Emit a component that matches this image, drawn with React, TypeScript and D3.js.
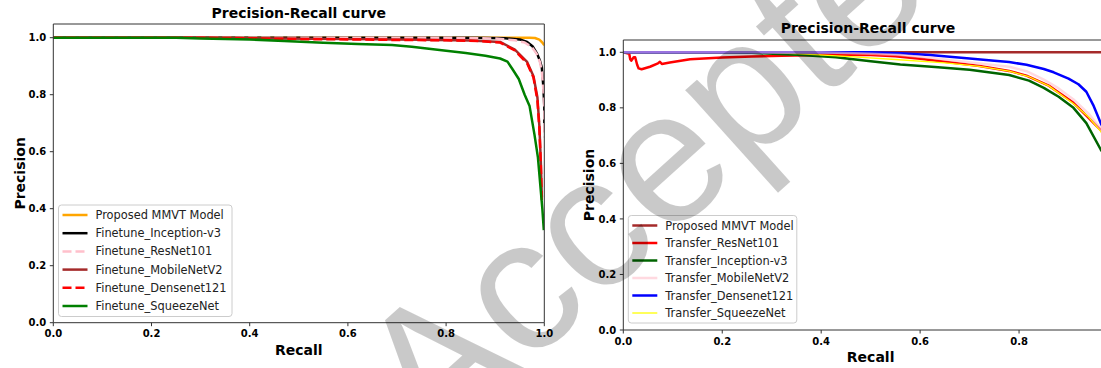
import React from "react";
import * as d3 from "d3";

type Pt = [number, number];

// ---------- data: left panel (Finetune) ----------
const leftNames = [
  "Proposed MMVT Model",
  "Finetune_Inception-v3",
  "Finetune_ResNet101",
  "Finetune_MobileNetV2",
  "Finetune_Densenet121",
  "Finetune_SqueezeNet",
];
const leftProposed: Pt[] = [[0, 1], [0.97, 1], [0.981, 0.999], [0.99, 0.993], [0.995, 0.985], [1, 0.974]];
const leftInception: Pt[] = [[0, 1], [0.85, 1], [0.92, 0.998], [0.95, 0.994], [0.965, 0.985], [0.976, 0.97], [0.985, 0.945], [0.991, 0.92], [0.995, 0.895], [0.998, 0.83], [1, 0.76], [1, 0.7]];
const leftResNet: Pt[] = [[0, 1], [0.8, 1], [0.9, 0.997], [0.94, 0.991], [0.96, 0.983], [0.974, 0.968], [0.984, 0.945], [0.991, 0.915], [0.995, 0.88], [0.998, 0.82], [1, 0.75], [1, 0.65]];
const leftMobile: Pt[] = [[0, 1], [0.3, 1], [0.45, 0.997], [0.6, 0.995], [0.75, 0.993], [0.85, 0.99], [0.91, 0.985], [0.94, 0.958], [0.965, 0.915], [0.978, 0.865], [0.986, 0.79], [0.99, 0.69], [0.993, 0.56], [0.995, 0.44]];
const leftDense: Pt[] = [[0, 1], [0.3, 1], [0.4, 0.998], [0.5, 0.995], [0.6, 0.994], [0.7, 0.992], [0.8, 0.991], [0.87, 0.988], [0.91, 0.983], [0.94, 0.955], [0.965, 0.91], [0.978, 0.86], [0.986, 0.78], [0.99, 0.68], [0.993, 0.55], [0.995, 0.42]];
const leftSqueeze: Pt[] = [[0, 1], [0.25, 1], [0.3, 0.997], [0.4, 0.994], [0.47, 0.988], [0.55, 0.982], [0.62, 0.978], [0.69, 0.974], [0.73, 0.968], [0.765, 0.961], [0.8, 0.954], [0.84, 0.946], [0.88, 0.937], [0.91, 0.927], [0.925, 0.916], [0.935, 0.89], [0.948, 0.855], [0.96, 0.8], [0.97, 0.76], [0.98, 0.66], [0.987, 0.58], [0.992, 0.48], [0.996, 0.4], [0.999, 0.325]];

// ---------- data: right panel (Transfer) ----------
const rightNames = [
  "Proposed MMVT Model",
  "Transfer_ResNet101",
  "Transfer_Inception-v3",
  "Transfer_MobileNetV2",
  "Transfer_Densenet121",
  "Transfer_SqueezeNet",
];
const rightProposed: Pt[] = [[0, 1], [1, 1]];
const rightResNet: Pt[] = [[0, 1], [0.012, 0.995], [0.014, 0.975], [0.016, 0.97], [0.021, 0.982], [0.024, 0.982], [0.028, 0.955], [0.031, 0.942], [0.037, 0.939], [0.054, 0.948], [0.07, 0.96], [0.074, 0.966], [0.078, 0.958], [0.094, 0.963], [0.135, 0.975], [0.2, 0.981], [0.26, 0.985], [0.32, 0.988], [0.4, 0.99], [0.5, 0.99], [0.55, 0.986], [0.6, 0.977], [0.65, 0.966], [0.72, 0.951], [0.78, 0.933], [0.815, 0.916], [0.86, 0.88], [0.91, 0.818], [0.936, 0.772], [0.965, 0.72], [1, 0.64]];
const rightInception: Pt[] = [[0, 1], [0.2, 1], [0.26, 0.998], [0.36, 0.99], [0.43, 0.982], [0.5, 0.968], [0.56, 0.956], [0.63, 0.947], [0.7, 0.937], [0.78, 0.918], [0.82, 0.898], [0.85, 0.872], [0.88, 0.84], [0.91, 0.8], [0.936, 0.745], [0.965, 0.65], [1, 0.55]];
const rightMobile: Pt[] = [[0, 1], [0.4, 1], [0.5, 0.995], [0.56, 0.99], [0.62, 0.98], [0.68, 0.968], [0.72, 0.96], [0.78, 0.948], [0.815, 0.932], [0.85, 0.902], [0.88, 0.87], [0.91, 0.83], [0.94, 0.78], [0.965, 0.725], [1, 0.64]];
const rightDense: Pt[] = [[0, 1], [0.5, 1], [0.56, 0.997], [0.62, 0.99], [0.7, 0.978], [0.75, 0.97], [0.78, 0.965], [0.815, 0.955], [0.85, 0.94], [0.87, 0.928], [0.9, 0.905], [0.92, 0.885], [0.936, 0.858], [0.95, 0.81], [0.965, 0.745], [1, 0.62]];
const rightSqueeze: Pt[] = [[0, 1], [0.25, 1], [0.35, 0.995], [0.45, 0.985], [0.55, 0.974], [0.65, 0.962], [0.72, 0.949], [0.78, 0.932], [0.82, 0.912], [0.86, 0.879], [0.91, 0.815], [0.94, 0.768], [0.965, 0.715], [1, 0.62]];

const tickValues = [0, 0.2, 0.4, 0.6, 0.8, 1.0];
const titleText = "Precision-Recall curve";
const xLabelText = "Recall";
const yLabelText = "Precision";
const watermarkText = "Accepted";

type Style = { color: string; width: number; dash?: string; opacity?: number };

const leftSeries: { name: string; data: Pt[]; style: Style; order?: number }[] = [
  { name: leftNames[0], data: leftProposed, style: { color: "#ffa500", width: 2.5 } },
  { name: leftNames[1], data: leftInception, style: { color: "#000000", width: 2.5 } },
  { name: leftNames[2], data: leftResNet, style: { color: "#ffc0cb", width: 2.5, dash: "9,4" } },
  { name: leftNames[3], data: leftMobile, style: { color: "#a52a2a", width: 2.5 } },
  { name: leftNames[4], data: leftDense, style: { color: "#ff0000", width: 2.5, dash: "9,4" } },
  { name: leftNames[5], data: leftSqueeze, style: { color: "#008000", width: 2.5 } },
];

const rightSeries: { name: string; data: Pt[]; style: Style; order: number }[] = [
  { name: rightNames[0], data: rightProposed, style: { color: "#a52a2a", width: 2.5 }, order: 0 },
  { name: rightNames[1], data: rightResNet, style: { color: "#ff0000", width: 2.5 }, order: 1 },
  { name: rightNames[2], data: rightInception, style: { color: "#006400", width: 2.5 }, order: 2 },
  { name: rightNames[3], data: rightMobile, style: { color: "#ffc0cb", width: 2.5, opacity: 0.6 }, order: 5 },
  { name: rightNames[4], data: rightDense, style: { color: "#0000ff", width: 2.5 }, order: 4 },
  { name: rightNames[5], data: rightSqueeze, style: { color: "#ffff00", width: 1.3 }, order: 3 },
];

const FONT = "'DejaVu Sans', sans-serif";
const VIEW_W = 1101;

type PanelProps = {
  x0: number; x1: number; y0: number; y1: number; yTop: number;
  series: { name: string; data: Pt[]; style: Style; order?: number }[];
  titleX: number; titleY: number;
  xLabelY: number; yLabelX: number;
  legend: { x: number; y: number; w: number; h: number; firstRow: number; rowGap: number };
  clipId: string;
};

function Panel(p: PanelProps) {
  const x = d3.scaleLinear().domain([0, 1]).range([p.x0, p.x1]);
  const y = d3.scaleLinear().domain([0, 1]).range([p.y0, p.y1]);
  const line = d3.line<Pt>().x((d) => x(d[0])).y((d) => y(d[1]));
  const fmt = d3.format(".1f");
  const sorted = [...p.series].sort((a, b) => (a.order ?? 0) - (b.order ?? 0));
  const cx = (p.x0 + p.x1) / 2;
  const cy = (p.y0 + p.yTop) / 2;
  const xTicks = tickValues.filter((t) => x(t) + 10 <= VIEW_W);
  return (
    <g>
      <defs>
        <clipPath id={p.clipId}>
          <rect x={p.x0} y={p.yTop} width={p.x1 - p.x0} height={p.y0 - p.yTop} />
        </clipPath>
      </defs>
      <g clipPath={`url(#${p.clipId})`}>
        {sorted.map((s) => (
          <path
            key={s.name}
            d={line(s.data) || ""}
            fill="none"
            stroke={s.style.color}
            strokeWidth={s.style.width}
            strokeDasharray={s.style.dash}
            strokeOpacity={s.style.opacity ?? 1}
            strokeLinejoin="round"
          />
        ))}
      </g>
      <line x1={p.x0} x2={p.x0} y1={p.yTop} y2={p.y0} stroke="#333" strokeWidth={1} />
      <line x1={p.x0} x2={p.x1} y1={p.y0} y2={p.y0} stroke="#333" strokeWidth={1} />
      <line x1={p.x0} x2={p.x1} y1={p.yTop} y2={p.yTop} stroke="#333" strokeWidth={1} />
      <line x1={p.x1} x2={p.x1} y1={p.yTop} y2={p.y0} stroke="#333" strokeWidth={1} />
      {xTicks.map((t) => (
        <g key={"x" + t}>
          <line x1={x(t)} x2={x(t)} y1={p.y0} y2={p.y0 + 3.5} stroke="#333" strokeWidth={1} />
          <text x={x(t)} y={p.y0 + 14.5} textAnchor="middle" fontFamily={FONT} fontWeight="bold" fontSize={10} fill="#000">
            {fmt(t)}
          </text>
        </g>
      ))}
      {tickValues.map((t) => (
        <g key={"y" + t}>
          <line x1={p.x0 - 3.5} x2={p.x0} y1={y(t)} y2={y(t)} stroke="#333" strokeWidth={1} />
          <text x={p.x0 - 7} y={y(t) + 3.6} textAnchor="end" fontFamily={FONT} fontWeight="bold" fontSize={10} fill="#000">
            {fmt(t)}
          </text>
        </g>
      ))}
      <text x={p.titleX} y={p.titleY} textAnchor="middle" fontFamily={FONT} fontWeight="bold" fontSize={14} fill="#000">
        {titleText}
      </text>
      <text x={cx} y={p.xLabelY} textAnchor="middle" fontFamily={FONT} fontWeight="bold" fontSize={14} fill="#000">
        {xLabelText}
      </text>
      <text
        transform={`translate(${p.yLabelX},${cy}) rotate(-90)`}
        textAnchor="middle"
        fontFamily={FONT}
        fontWeight="bold"
        fontSize={14}
        fill="#000"
      >
        {yLabelText}
      </text>
      <rect
        x={p.legend.x}
        y={p.legend.y}
        width={p.legend.w}
        height={p.legend.h}
        rx={3}
        fill="#fff"
        fillOpacity={0.8}
        stroke="#cccccc"
        strokeWidth={1}
      />
      {p.series.map((s, i) => {
        const ry = p.legend.firstRow + i * p.legend.rowGap;
        return (
          <g key={"lg" + s.name}>
            <line
              x1={p.legend.x + 4}
              x2={p.legend.x + 29}
              y1={ry}
              y2={ry}
              stroke={s.style.color}
              strokeWidth={s.style.width}
              strokeDasharray={s.style.dash}
              strokeOpacity={s.style.opacity ?? 1}
            />
            <text x={p.legend.x + 37} y={ry + 4} fontFamily={FONT} fontSize={11.4} fill="#222">
              {s.name}
            </text>
          </g>
        );
      })}
    </g>
  );
}

export default function App() {
  return (
    <svg
      width={1101}
      height={368}
      style={{ position: "absolute", left: 0, top: 0, background: "#fff" }}
      xmlns="http://www.w3.org/2000/svg"
    >
      <rect x={0} y={0} width={1101} height={368} fill="#fff" />
      <Panel
        x0={53.3}
        x1={544.3}
        y0={322.7}
        y1={37.7}
        yTop={24}
        series={leftSeries}
        titleX={298.8}
        titleY={17.5}
        xLabelY={355}
        yLabelX={25}
        legend={{ x: 58.5, y: 205, w: 173.5, h: 111.5, firstRow: 215, rowGap: 18.2 }}
        clipId="clipL"
      />
      <Panel
        x0={623.3}
        x1={1118}
        y0={330}
        y1={52.3}
        yTop={40}
        series={rightSeries}
        titleX={868}
        titleY={33}
        xLabelY={362}
        yLabelX={594}
        legend={{ x: 628.3, y: 215.5, w: 168.5, h: 107.5, firstRow: 225.5, rowGap: 17.5 }}
        clipId="clipR"
      />
      <text
        transform="translate(432,452) rotate(-42)"
        fontFamily="'Liberation Sans', Arial, sans-serif"
        fontSize={188}
        fill="#000"
        fillOpacity={0.21}
      >
        {watermarkText}
      </text>
    </svg>
  );
}
